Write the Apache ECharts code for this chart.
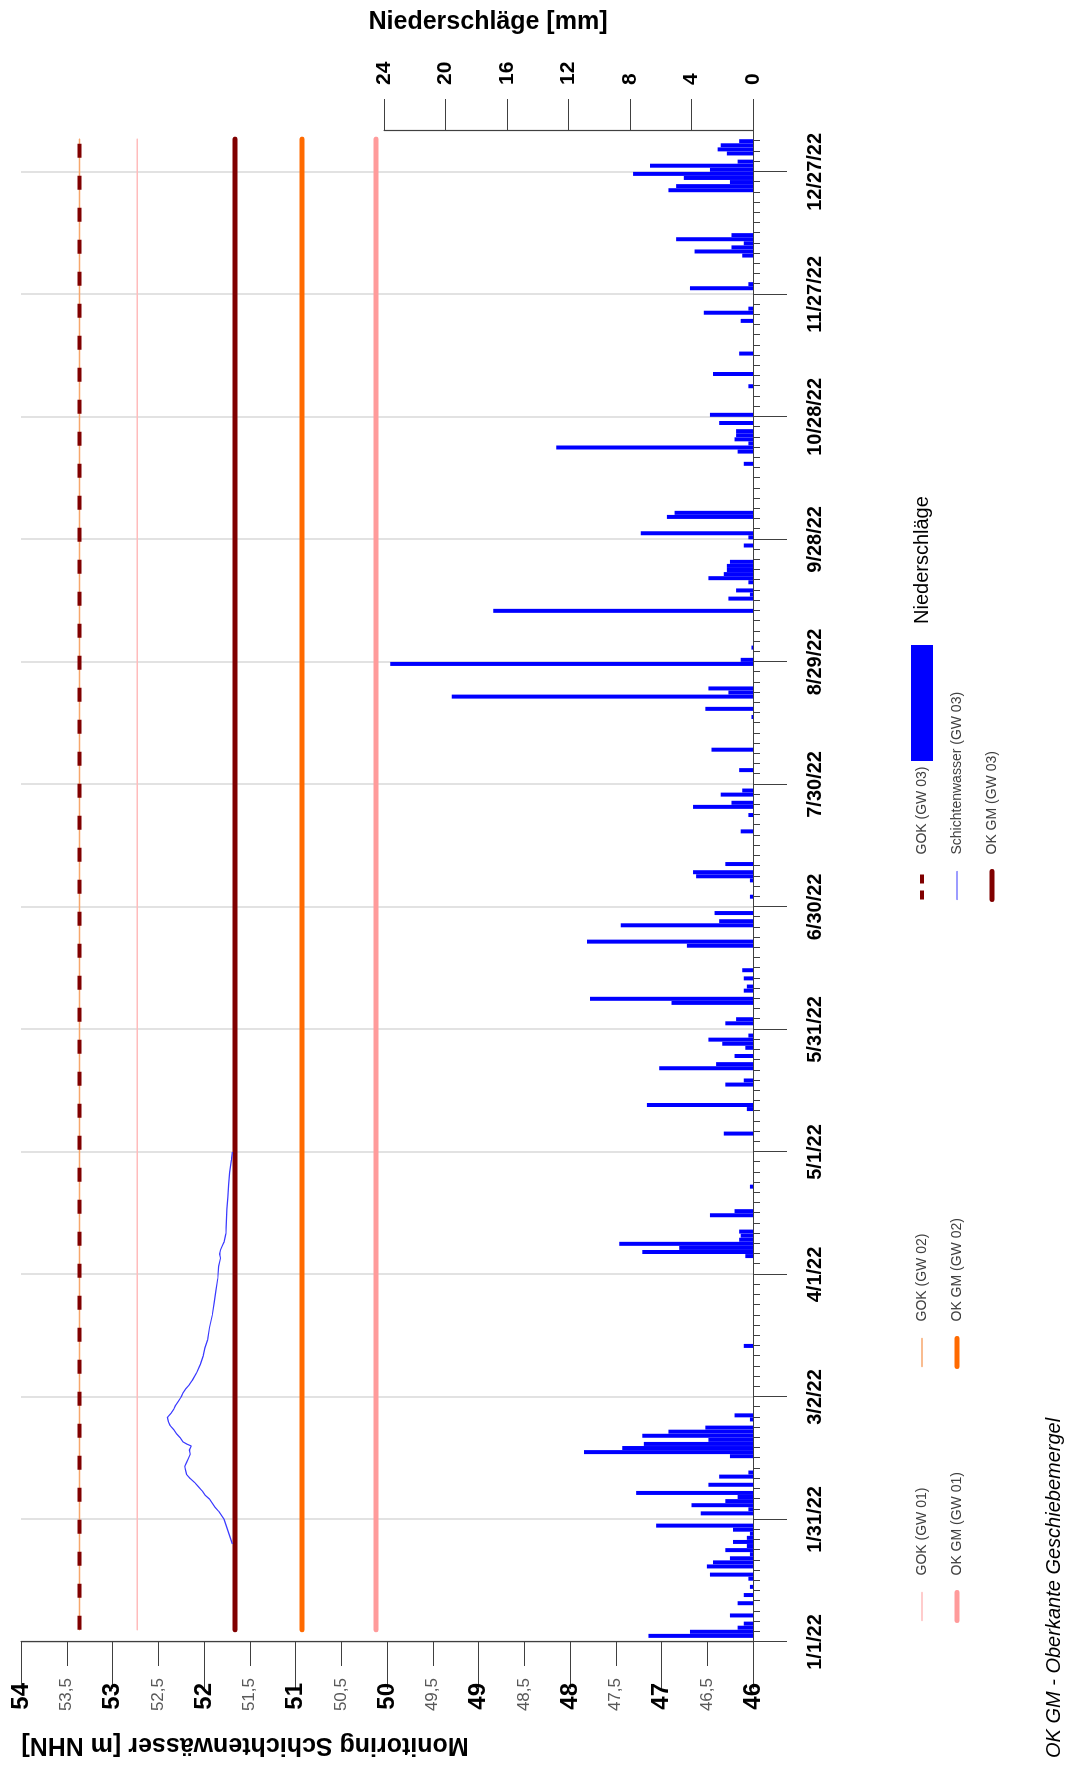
<!DOCTYPE html>
<html>
<head>
<meta charset="utf-8">
<script src="https://cdn.jsdelivr.net/npm/echarts@6/dist/echarts.min.js"></script>
<style>
  html, body { margin: 0; padding: 0; width: 1065px; height: 1767px; overflow: hidden; background: #fff; }
  /* the chart is drawn landscape and turned a quarter to the left */
  #wrap { position: absolute; left: 0; top: 0; width: 1767px; height: 1065px;
          transform-origin: 0 0; transform: translateY(1767px) rotate(-90deg); }
  #chart { width: 1767px; height: 1065px; }
</style>
</head>
<body>
<div id="wrap"><div id="chart"></div></div>
<script>
// days counted from 1/1/22
var dayTicks = [0, 30, 60, 90, 120, 150, 180, 210, 240, 270, 300, 330, 360];

// Niederschläge [mm], one bar per day
var rainDays = [1, 2, 3, 4, 6, 9, 11, 13, 15, 16, 18, 19, 20, 21, 22, 23, 24, 25, 26, 27, 28,
  31, 32, 33, 34, 35, 36, 38, 40, 41, 45, 46, 47, 48, 49, 50, 51, 52, 54, 55, 72,
  94, 95, 96, 97, 98, 99, 100, 104, 105, 111, 124, 130, 131, 136, 137, 140, 141, 143, 145, 146, 147, 148,
  151, 152, 156, 157, 159, 160, 162, 164, 170, 171, 175, 176, 178, 182, 186, 187, 188, 190,
  198, 202, 204, 205, 207, 208, 213, 218, 226, 228, 231, 232, 233, 239, 240, 243,
  252, 255, 256, 257, 259, 260, 261, 262, 263, 264, 268, 270, 271, 275, 276,
  288, 291, 292, 293, 294, 295, 296, 298, 300, 307, 310, 315, 323, 325, 326, 331, 332,
  339, 340, 341, 342, 343, 344, 355, 356, 357, 358, 359, 360, 361, 362, 364, 365, 366, 367];
var rainMm = [6.8, 4.1, 1.0, 0.6, 1.5, 1.0, 0.6, 0.2, 0.3, 2.8, 3.0, 2.6, 1.5, 0.2, 1.8, 0.4, 1.3, 0.4, 0.2, 1.3, 6.3,
  3.4, 0.3, 4.0, 1.8, 1.0, 7.6, 2.9, 2.2, 0.3, 1.5, 11.0, 8.5, 7.1, 2.9, 7.2, 5.5, 3.1, 0.2, 1.2, 0.6,
  0.5, 7.2, 4.8, 8.7, 0.9, 0.8, 0.9, 2.8, 1.2, 0.2, 1.9, 0.4, 6.9, 1.8, 0.6, 6.1, 2.4, 1.2, 0.5, 2.0, 2.9, 0.3,
  1.8, 1.1, 5.3, 10.6, 0.6, 0.4, 0.6, 0.7, 4.3, 10.8, 8.6, 2.2, 2.5, 0.2, 0.2, 3.7, 3.9, 1.8,
  0.8, 0.3, 3.9, 1.4, 2.1, 0.7, 0.9, 2.7, 0.1, 3.1, 19.6, 1.6, 2.9, 23.6, 0.8, 0.1,
  16.9, 1.6, 0.2, 1.1, 0.3, 2.9, 1.9, 1.7, 1.7, 1.5, 0.6, 0.3, 7.3, 5.6, 5.1,
  0.6, 1.0, 12.8, 0.3, 1.2, 1.1, 1.1, 2.2, 2.8, 0.3, 2.6, 0.9, 0.8, 3.2, 0.3, 4.1, 0.3,
  0.7, 3.8, 1.4, 0.6, 5.0, 1.4, 5.5, 5.0, 1.5, 4.5, 7.8, 2.8, 6.7, 1.0, 1.7, 2.3, 2.1, 0.9];

// Schichtenwasser (GW 03) [m NHN]
var gw03Days = [24, 26, 28, 30, 32, 33, 35, 36, 37, 38, 39, 40, 41, 42, 43, 44, 45, 46, 47, 48, 48.5,
  49, 50, 51, 52, 53, 54, 55, 56, 57, 58, 59, 60, 61, 62, 63, 64, 66, 68, 70, 72, 74, 77, 80,
  83, 86, 89, 92, 94, 95, 96, 97, 98, 100, 103, 106, 109, 112, 115, 118, 120];
var gw03Level = [51.69, 51.72, 51.75, 51.78, 51.84, 51.88, 51.94, 51.99, 52.02, 52.06, 52.10, 52.15, 52.19,
  52.20, 52.21, 52.19, 52.17, 52.15, 52.16, 52.14, 52.19, 52.23, 52.26, 52.30, 52.33, 52.37, 52.39, 52.40,
  52.36, 52.33, 52.31, 52.28, 52.25, 52.23, 52.20, 52.16, 52.13, 52.08, 52.04, 52.01, 51.99, 51.96, 51.94,
  51.91, 51.89, 51.87, 51.85, 51.84, 51.82, 51.83, 51.82, 51.80, 51.78, 51.76, 51.755, 51.75, 51.74,
  51.73, 51.72, 51.70, 51.69];

// constant reference levels [m NHN]
var gokGW01 = 52.73, gokGW02 = 53.36, gokGW03 = 53.36;
var okgmGW01 = 50.12, okgmGW02 = 50.93, okgmGW03 = 51.66;
var levelFrom = 3, levelTo = 368;

var FONT = 'Liberation Sans';

function dayLabel(d) {
  var t = new Date(Date.UTC(2022, 0, 1) + d * 86400000);
  return (t.getUTCMonth() + 1) + '/' + t.getUTCDate() + '/' + String(t.getUTCFullYear()).slice(2);
}

function flat(level) {
  return [[levelFrom, level], [levelTo, level]];
}

var rainData = rainDays.map(function (d, i) { return [d + 0.5, rainMm[i]]; });
var gw03Data = gw03Days.map(function (d, i) { return [d, gw03Level[i]]; });

var legendText = { fontFamily: FONT, fontSize: 14, color: '#404040', padding: [0, 0, 0, 12] };

// legend entry with its own line look
function key(name, width, type) {
  return { name: name, lineStyle: { width: width, type: type || 'solid', cap: type ? 'butt' : 'round' } };
}

function lineLegend(items, left) {
  return {
    data: items, orient: 'vertical', left: left, top: 915, padding: 0,
    itemWidth: 28, itemHeight: 14, itemGap: 21, selectedMode: false,
    itemStyle: { opacity: 0 }, textStyle: legendText
  };
}

function levelLine(name, value, color, width, type) {
  return {
    name: name, type: 'line', xAxisIndex: 0, yAxisIndex: 0, symbol: 'none',
    itemStyle: { color: color },
    lineStyle: { color: color, width: width, type: type || 'solid', cap: type ? 'butt' : 'round' },
    data: flat(value)
  };
}

var option = {
  animation: false,
  textStyle: { fontFamily: FONT },
  grid: [
    { left: 125, right: 131, top: 21, height: 732 },
    { left: 125, right: 131, top: 384, height: 369 }
  ],
  xAxis: [
    {
      gridIndex: 0, type: 'value', min: 0, max: 370, interval: 30,
      axisLine: { onZero: false, lineStyle: { color: '#404040', width: 1.2 } },
      axisTick: { length: 34, customValues: dayTicks, lineStyle: { color: '#404040' } },
      minorTick: { show: true, splitNumber: 12, length: 7, lineStyle: { color: '#404040' } },
      splitLine: { show: true, lineStyle: { color: '#d9d9d9', width: 1.5 } },
      axisLabel: {
        customValues: dayTicks, margin: 52, formatter: dayLabel,
        fontWeight: 'bold', fontSize: 20, color: '#000'
      }
    },
    { gridIndex: 1, type: 'value', min: 0, max: 370, show: false }
  ],
  yAxis: [
    {
      gridIndex: 0, type: 'value', min: 46, max: 54, interval: 1, position: 'left',
      axisLine: { show: true, onZero: false, lineStyle: { color: '#404040', width: 1.2 } },
      axisTick: { show: true, length: 47, lineStyle: { color: '#404040' } },
      splitLine: { show: false },
      axisLabel: { margin: 41, fontWeight: 'bold', fontSize: 24, color: '#000' }
    },
    {
      gridIndex: 0, type: 'value', min: 46, max: 54, interval: 0.5, position: 'left',
      axisLine: { show: false, onZero: false },
      axisTick: { show: true, length: 24, lineStyle: { color: '#404040' } },
      splitLine: { show: false },
      axisLabel: {
        margin: 36, fontSize: 17, color: '#595959',
        formatter: function (v) { return v % 1 === 0 ? '' : String(v).replace('.', ','); }
      }
    },
    {
      gridIndex: 1, type: 'value', min: 0, max: 24, interval: 4, position: 'right',
      axisLine: { show: true, onZero: false, lineStyle: { color: '#404040', width: 1.2 } },
      axisTick: { show: true, length: 32, lineStyle: { color: '#404040' } },
      splitLine: { show: false },
      axisLabel: { margin: 46, fontWeight: 'bold', fontSize: 21, color: '#000' }
    }
  ],
  legend: [
    lineLegend([key('GOK (GW 01)', 1.5), key('OK GM (GW 01)', 5)], 144),
    lineLegend([key('GOK (GW 02)', 1.5), key('OK GM (GW 02)', 5)], 398),
    lineLegend([key('GOK (GW 03)', 4, [9, 7]), key('Schichtenwasser (GW 03)', 1.2), key('OK GM (GW 03)', 5)], 865),
    { data: [{ name: 'Niederschläge', icon: 'rect' }], left: 1006, top: 911, padding: 0,
      itemWidth: 116, itemHeight: 22, selectedMode: false,
      textStyle: { fontFamily: FONT, fontSize: 20, color: '#000', padding: [0, 0, 0, 16] } }
  ],
  graphic: [
    { type: 'text', x: 1745, y: 488, rotation: -Math.PI / 2,
      style: { text: 'Niederschläge [mm]', font: 'bold 25px "Liberation Sans"', fill: '#000',
               textAlign: 'center', textVerticalAlign: 'middle' } },
    { type: 'text', x: 22, y: 245, rotation: Math.PI / 2,
      style: { text: 'Monitoring Schichtenwässer [m NHN]', font: 'bold 25px "Liberation Sans"', fill: '#000',
               textAlign: 'center', textVerticalAlign: 'middle' } },
    { type: 'text', x: 9, y: 1054,
      style: { text: 'OK GM - Oberkante Geschiebemergel', font: 'italic 20px "Liberation Sans"',
               fill: '#000', textAlign: 'left', textVerticalAlign: 'middle' } }
  ],
  series: [
    { name: 'Niederschläge', type: 'bar', xAxisIndex: 1, yAxisIndex: 2, barWidth: 4,
      itemStyle: { color: '#0000ff' }, data: rainData },
    levelLine('GOK (GW 01)', gokGW01, '#ffbcbc', 1.5),
    levelLine('OK GM (GW 01)', okgmGW01, '#ff9b9b', 5),
    levelLine('GOK (GW 02)', gokGW02, '#f7a76c', 1.5),
    levelLine('OK GM (GW 02)', okgmGW02, '#ff6a00', 5),
    levelLine('GOK (GW 03)', gokGW03, '#800000', 4, [14, 18]),
    levelLine('OK GM (GW 03)', okgmGW03, '#800000', 5),
    { name: 'Schichtenwasser (GW 03)', type: 'line', xAxisIndex: 0, yAxisIndex: 0, symbol: 'none',
      itemStyle: { color: '#3a3aff' }, lineStyle: { color: '#3a3aff', width: 1.2 }, data: gw03Data }
  ]
};

var myChart = echarts.init(document.getElementById('chart'));
myChart.setOption(option, true);
</script>
</body>
</html>
